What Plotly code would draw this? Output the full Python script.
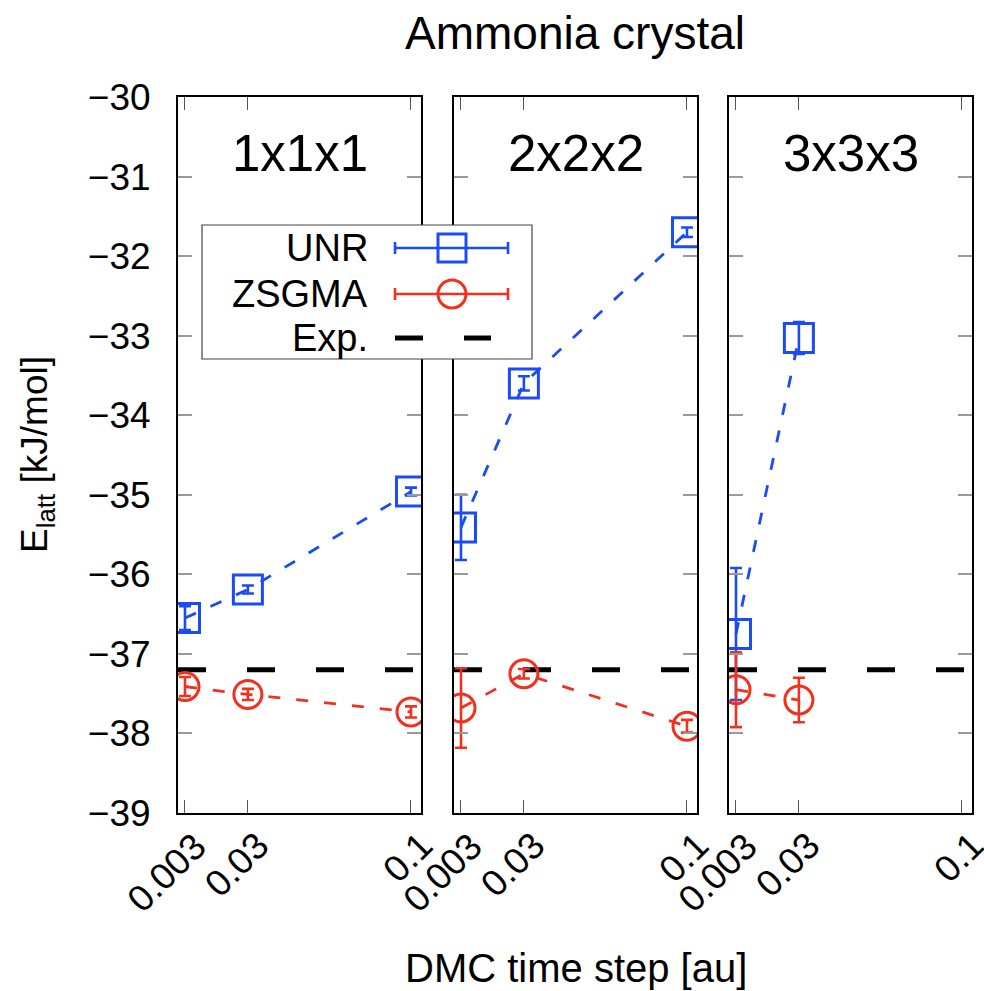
import plotly.graph_objects as go

# ---------------- data ----------------
panels = ["1x1x1", "2x2x2", "3x3x3"]
unr_x = [[0.003, 0.03, 0.1], [0.003, 0.03, 0.1], [0.003, 0.03]]
unr_y = [[-36.55, -36.19, -34.96], [-35.41, -33.60, -31.70], [-36.75, -33.03]]
unr_err = [[0.15, 0.05, 0.05], [0.41, 0.09, 0.06], [0.83, 0.20]]
zs_x = [[0.003, 0.03, 0.1], [0.003, 0.03, 0.1], [0.003, 0.03]]
zs_y = [[-37.41, -37.51, -37.73], [-37.68, -37.25, -37.91], [-37.45, -37.58]]
zs_err = [[0.12, 0.07, 0.07], [0.50, 0.06, 0.08], [0.47, 0.28]]
exp_value = -37.2
x_ticks = [0.003, 0.03, 0.1]
x_tick_labels = ["0.003", "0.03", "0.1"]
y_ticks = list(range(-39, -29))
x_range = [0, 0.1043]
y_range = [-39, -30]

BLUE = "#1a4cf6"
RED = "#f2301e"
FONT = "Liberation Sans, Arial, sans-serif"

W, H = 984, 991
ML, MR, MT, MB = 178, 12, 97, 178
PW = W - ML - MR
PH = H - MT - MB


def px(x):
    return (x - ML) / PW


def py(y):
    return (H - MB - y) / PH


domains = [[px(178), px(421)], [px(454), px(697)], [px(729), px(972)]]

fig = go.Figure()

for i in range(3):
    xa = "x" if i == 0 else f"x{i+1}"
    ya = "y" if i == 0 else f"y{i+1}"
    # experimental line
    fig.add_trace(go.Scatter(
        x=x_range, y=[exp_value, exp_value], mode="lines",
        line=dict(color="black", width=5, dash="28px,41px"),
        xaxis=xa, yaxis=ya, showlegend=False, hoverinfo="skip"))
    fig.add_trace(go.Scatter(
        x=unr_x[i], y=unr_y[i], mode="lines+markers",
        line=dict(color=BLUE, width=2.8, dash="12px,16px"),
        marker=dict(symbol="square-open", size=29, color=BLUE,
                    line=dict(color=BLUE, width=3)),
        error_y=dict(type="data", array=unr_err[i], color=BLUE,
                     thickness=2.6, width=6),
        xaxis=xa, yaxis=ya, showlegend=False, name="UNR"))
    fig.add_trace(go.Scatter(
        x=zs_x[i], y=zs_y[i], mode="lines+markers",
        line=dict(color=RED, width=2.8, dash="12px,16px"),
        marker=dict(symbol="circle-open", size=28, color=RED,
                    line=dict(color=RED, width=3)),
        error_y=dict(type="data", array=zs_err[i], color=RED,
                     thickness=2.6, width=6),
        xaxis=xa, yaxis=ya, showlegend=False, name="ZSGMA"))

layout = dict(
    width=W, height=H, autosize=False,
    margin=dict(l=ML, r=MR, t=MT, b=MB),
    paper_bgcolor="white", plot_bgcolor="white",
    font=dict(family=FONT, color="black"),
)

for i in range(3):
    xk = "xaxis" if i == 0 else f"xaxis{i+1}"
    yk = "yaxis" if i == 0 else f"yaxis{i+1}"
    ya = "y" if i == 0 else f"y{i+1}"
    xa = "x" if i == 0 else f"x{i+1}"
    layout[xk] = dict(
        domain=domains[i], range=x_range, anchor=ya,
        tickmode="array", tickvals=x_ticks,
        ticks="inside", ticklen=13, tickwidth=1,
        tickcolor="#555555", showline=True, linecolor="black", linewidth=2,
        mirror="allticks", showgrid=False, zeroline=False,
        showticklabels=False, automargin=False,
    )
    layout[yk] = dict(
        domain=[0, 1], range=y_range, anchor=xa,
        tickmode="array", tickvals=y_ticks,
        ticks="inside", ticklen=14, tickwidth=2, tickcolor="#9a9a9a",
        showline=True, linecolor="black", linewidth=2, mirror="allticks",
        showgrid=False, zeroline=False, showticklabels=(i == 0),
        tickfont=dict(size=37, family=FONT, color="black"),
        ticklabelstandoff=18, automargin=False,
    )

fig.update_layout(**layout)

annotations = []
for i in range(3):
    xa = "x" if i == 0 else f"x{i+1}"
    annotations.append(dict(
        text=panels[i], xref=f"{xa} domain", yref="paper", x=0.5, y=py(153),
        xanchor="center", yanchor="middle", showarrow=False,
        font=dict(size=51, family=FONT, color="black")))
    # rotated x tick labels
    for tv, tl in zip(x_ticks, x_tick_labels):
        annotations.append(dict(
            text=tl, xref=xa, yref="paper", x=tv, y=py(822),
            xanchor="right", yanchor="top", xshift=32, textangle=-45,
            showarrow=False, font=dict(size=37, family=FONT, color="black")))

annotations.append(dict(text="Ammonia crystal", xref="paper", yref="paper",
                        x=px(575), y=py(33), xanchor="center", yanchor="middle",
                        showarrow=False, font=dict(size=46, family=FONT)))
annotations.append(dict(text="DMC time step [au]", xref="paper", yref="paper",
                        x=px(576), y=py(968), xanchor="center", yanchor="middle",
                        showarrow=False, font=dict(size=40, family=FONT)))
annotations.append(dict(text="E<sub>latt</sub> [kJ/mol]", xref="paper", yref="paper",
                        x=px(37), y=py(455), xanchor="center", yanchor="middle",
                        textangle=-90, showarrow=False, font=dict(size=37, family=FONT)))

# ---------------- custom legend ----------------
shapes = []
shapes.append(dict(type="rect", xref="paper", yref="paper",
                   x0=px(202), x1=px(532), y0=py(359), y1=py(225),
                   fillcolor="white", line=dict(color="#444444", width=1.2)))
legend_rows = [("UNR", 248, BLUE, "square"), ("ZSGMA", 294, RED, "circle"),
               ("Exp.", 338, "black", "dash")]
for label, yy, col, kind in legend_rows:
    annotations.append(dict(text=label, xref="paper", yref="paper",
                            x=px(370), y=py(yy), xanchor="right", yanchor="middle",
                            showarrow=False, font=dict(size=38, family=FONT)))
    if kind == "dash":
        for a, b in [(395, 423), (464, 491)]:
            shapes.append(dict(type="line", xref="paper", yref="paper",
                               x0=px(a), x1=px(b), y0=py(yy), y1=py(yy),
                               line=dict(color="black", width=5)))
        continue
    shapes.append(dict(type="line", xref="paper", yref="paper",
                       x0=px(395), x1=px(508), y0=py(yy), y1=py(yy),
                       line=dict(color=col, width=2.6)))
    for cx in (395, 508):
        shapes.append(dict(type="line", xref="paper", yref="paper",
                           x0=px(cx), x1=px(cx), y0=py(yy - 6), y1=py(yy + 6),
                           line=dict(color=col, width=2.6)))
    stype = "rect" if kind == "square" else "circle"
    shapes.append(dict(type=stype, xref="paper", yref="paper",
                       x0=px(438), x1=px(466), y0=py(yy + 14), y1=py(yy - 14),
                       fillcolor="rgba(0,0,0,0)", line=dict(color=col, width=3)))

fig.update_layout(annotations=annotations, shapes=shapes)
fig.write_html("out.html")
